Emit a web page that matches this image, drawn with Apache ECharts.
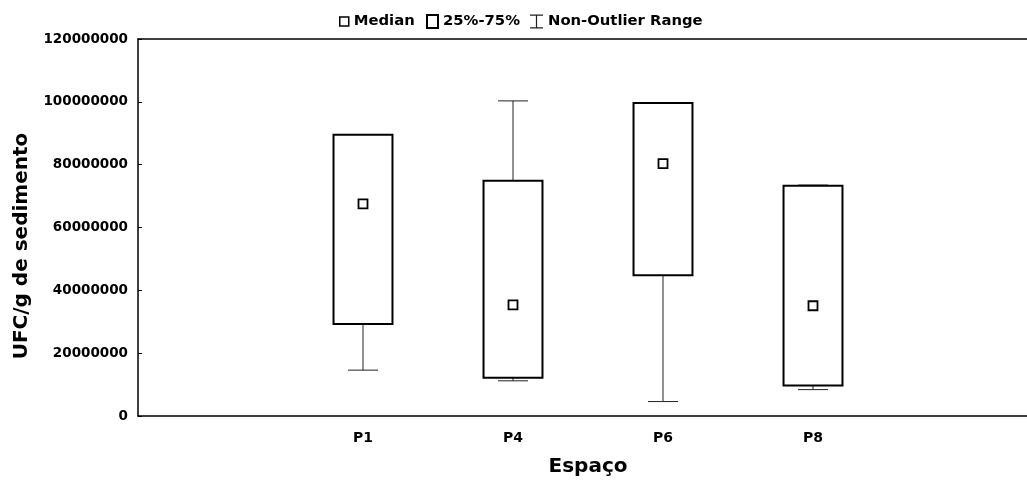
<!DOCTYPE html>
<html>
<head>
<meta charset="utf-8">
<script src="https://cdn.jsdelivr.net/npm/echarts@6/dist/echarts.min.js"></script>
<style>html,body{margin:0;padding:0;background:#fff}#c{width:1027px;height:486px}</style>
</head>
<body>
<div id="c"></div>
<script>
// ---- data ----
var axisCategories = ['', 'P1', 'P4', 'P6', 'P8', ''];
var groups = ['P1', 'P4', 'P6', 'P8'];
var minValues    = [14600000, 11200000,  4600000,  8400000];
var q1Values     = [29300000, 12200000, 44800000,  9700000];
var medianValues = [67500000, 35400000, 80300000, 35100000];
var q3Values     = [89500000, 74900000, 99600000, 73300000];
var maxValues    = [89500000, 100300000, 99600000, 73500000];
var yTicks = [0, 20000000, 40000000, 60000000, 80000000, 100000000, 120000000];

var FONT = '"DejaVu Sans", sans-serif';

var boxData = groups.map(function (g, i) {
  return [axisCategories.indexOf(g), minValues[i], q1Values[i], medianValues[i], q3Values[i], maxValues[i]];
});
var medianData = groups.map(function (g, i) { return [g, medianValues[i]]; });

function renderBox(params, api) {
  var x = api.value(0);
  var pMin = api.coord([x, api.value(1)]);
  var pQ1 = api.coord([x, api.value(2)]);
  var pQ3 = api.coord([x, api.value(4)]);
  var pMax = api.coord([x, api.value(5)]);
  var band = api.size([1, 0])[0];
  var bw = band * 0.393;
  var cw = band * 0.2;
  var cx = pQ1[0];
  var wStyle = { stroke: '#222', lineWidth: 1, fill: null };
  return {
    type: 'group',
    children: [
      { type: 'line', shape: { x1: cx, y1: pQ1[1], x2: cx, y2: pMin[1] }, style: wStyle },
      { type: 'line', shape: { x1: cx - cw / 2, y1: pMin[1], x2: cx + cw / 2, y2: pMin[1] }, style: wStyle },
      { type: 'line', shape: { x1: cx, y1: pQ3[1], x2: cx, y2: pMax[1] }, style: wStyle },
      { type: 'line', shape: { x1: cx - cw / 2, y1: pMax[1], x2: cx + cw / 2, y2: pMax[1] }, style: wStyle },
      { type: 'rect', shape: { x: cx - bw / 2, y: pQ3[1], width: bw, height: pQ1[1] - pQ3[1] },
        style: { fill: '#fff', stroke: '#000', lineWidth: 2 } }
    ]
  };
}

var chart = echarts.init(document.getElementById('c'), null, { renderer: 'canvas' });
var legendText = { color: '#000', fontWeight: 'bold', fontSize: 14.8, fontFamily: FONT };
var option = {
  backgroundColor: '#fff',
  animation: false,
  grid: { left: 138, top: 39, width: 900, height: 377, outerBoundsMode: 'none', containLabel: false },
  legend: [
    { left: 339, top: 14, padding: 0, itemWidth: 9, itemHeight: 9, textStyle: legendText, selectedMode: false,
      data: [{ name: 'Median', icon: 'rect', itemStyle: { color: '#fff', borderColor: '#000', borderWidth: 1.5 } }] },
    { left: 426, top: 14, padding: 0, itemWidth: 11, itemHeight: 13, textStyle: legendText, selectedMode: false,
      data: [{ name: '25%-75%', icon: 'rect', itemStyle: { color: '#fff', borderColor: '#000', borderWidth: 2 } }] },
    { left: 530, top: 14, padding: 0, itemWidth: 13, itemHeight: 14, textStyle: legendText, selectedMode: false,
      data: [{ name: 'Non-Outlier Range', icon: 'path://M0,0H13V1.2H7.1V12.8H13V14H0V12.8H5.9V1.2H0Z', itemStyle: { color: '#222', borderWidth: 0 } }] }
  ],
  xAxis: [
    {
      type: 'category', data: axisCategories, boundaryGap: true, position: 'bottom',
      axisLine: { lineStyle: { color: '#000', width: 1.5 } },
      axisTick: { alignWithLabel: true, inside: true, length: 3, lineStyle: { color: '#000', width: 1 } },
      axisLabel: { interval: 0, margin: 15, color: '#000', fontWeight: 'bold', fontSize: 14, fontFamily: FONT },
      splitLine: { show: false },
      name: 'Espaço', nameLocation: 'middle', nameGap: 41,
      nameTextStyle: { color: '#000', fontWeight: 'bold', fontSize: 20, fontFamily: FONT }
    },
    {
      type: 'category', data: axisCategories, boundaryGap: true, position: 'top',
      axisLine: { lineStyle: { color: '#000', width: 1.5 } },
      axisTick: { alignWithLabel: true, inside: true, length: 3, lineStyle: { color: '#000', width: 1 } },
      axisLabel: { show: false }, splitLine: { show: false }
    }
  ],
  yAxis: {
    type: 'value', min: yTicks[0], max: yTicks[yTicks.length - 1], interval: yTicks[1] - yTicks[0],
    axisLine: { show: true, lineStyle: { color: '#000', width: 1.5 } },
    axisTick: { show: true, inside: true, length: 4, lineStyle: { color: '#000', width: 1 } },
    axisLabel: { margin: 10, color: '#000', fontWeight: 'bold', fontSize: 13.5, fontFamily: FONT,
      formatter: function (v) { return String(Math.round(v)); } },
    splitLine: { show: false }
  },
  graphic: [{
    type: 'text', x: 22, y: 246, rotation: Math.PI / 2,
    style: { text: 'UFC/g de sedimento', font: 'bold 20px ' + FONT, fill: '#000', align: 'center', verticalAlign: 'middle' }
  }],
  series: [
    { name: '25%-75%', type: 'custom', renderItem: renderBox, data: boxData,
      encode: { x: 0, y: [1, 2, 3, 4, 5] }, itemStyle: { color: '#fff', borderColor: '#000' }, z: 2 },
    { name: 'Non-Outlier Range', type: 'custom', renderItem: function () { return null; }, data: [], itemStyle: { color: '#222' } },
    { name: 'Median', type: 'scatter', data: medianData, symbol: 'rect', symbolSize: 9,
      itemStyle: { color: '#fff', borderColor: '#000', borderWidth: 1.8, opacity: 1 }, z: 5 }
  ]
};
chart.setOption(option);
</script>
</body>
</html>
